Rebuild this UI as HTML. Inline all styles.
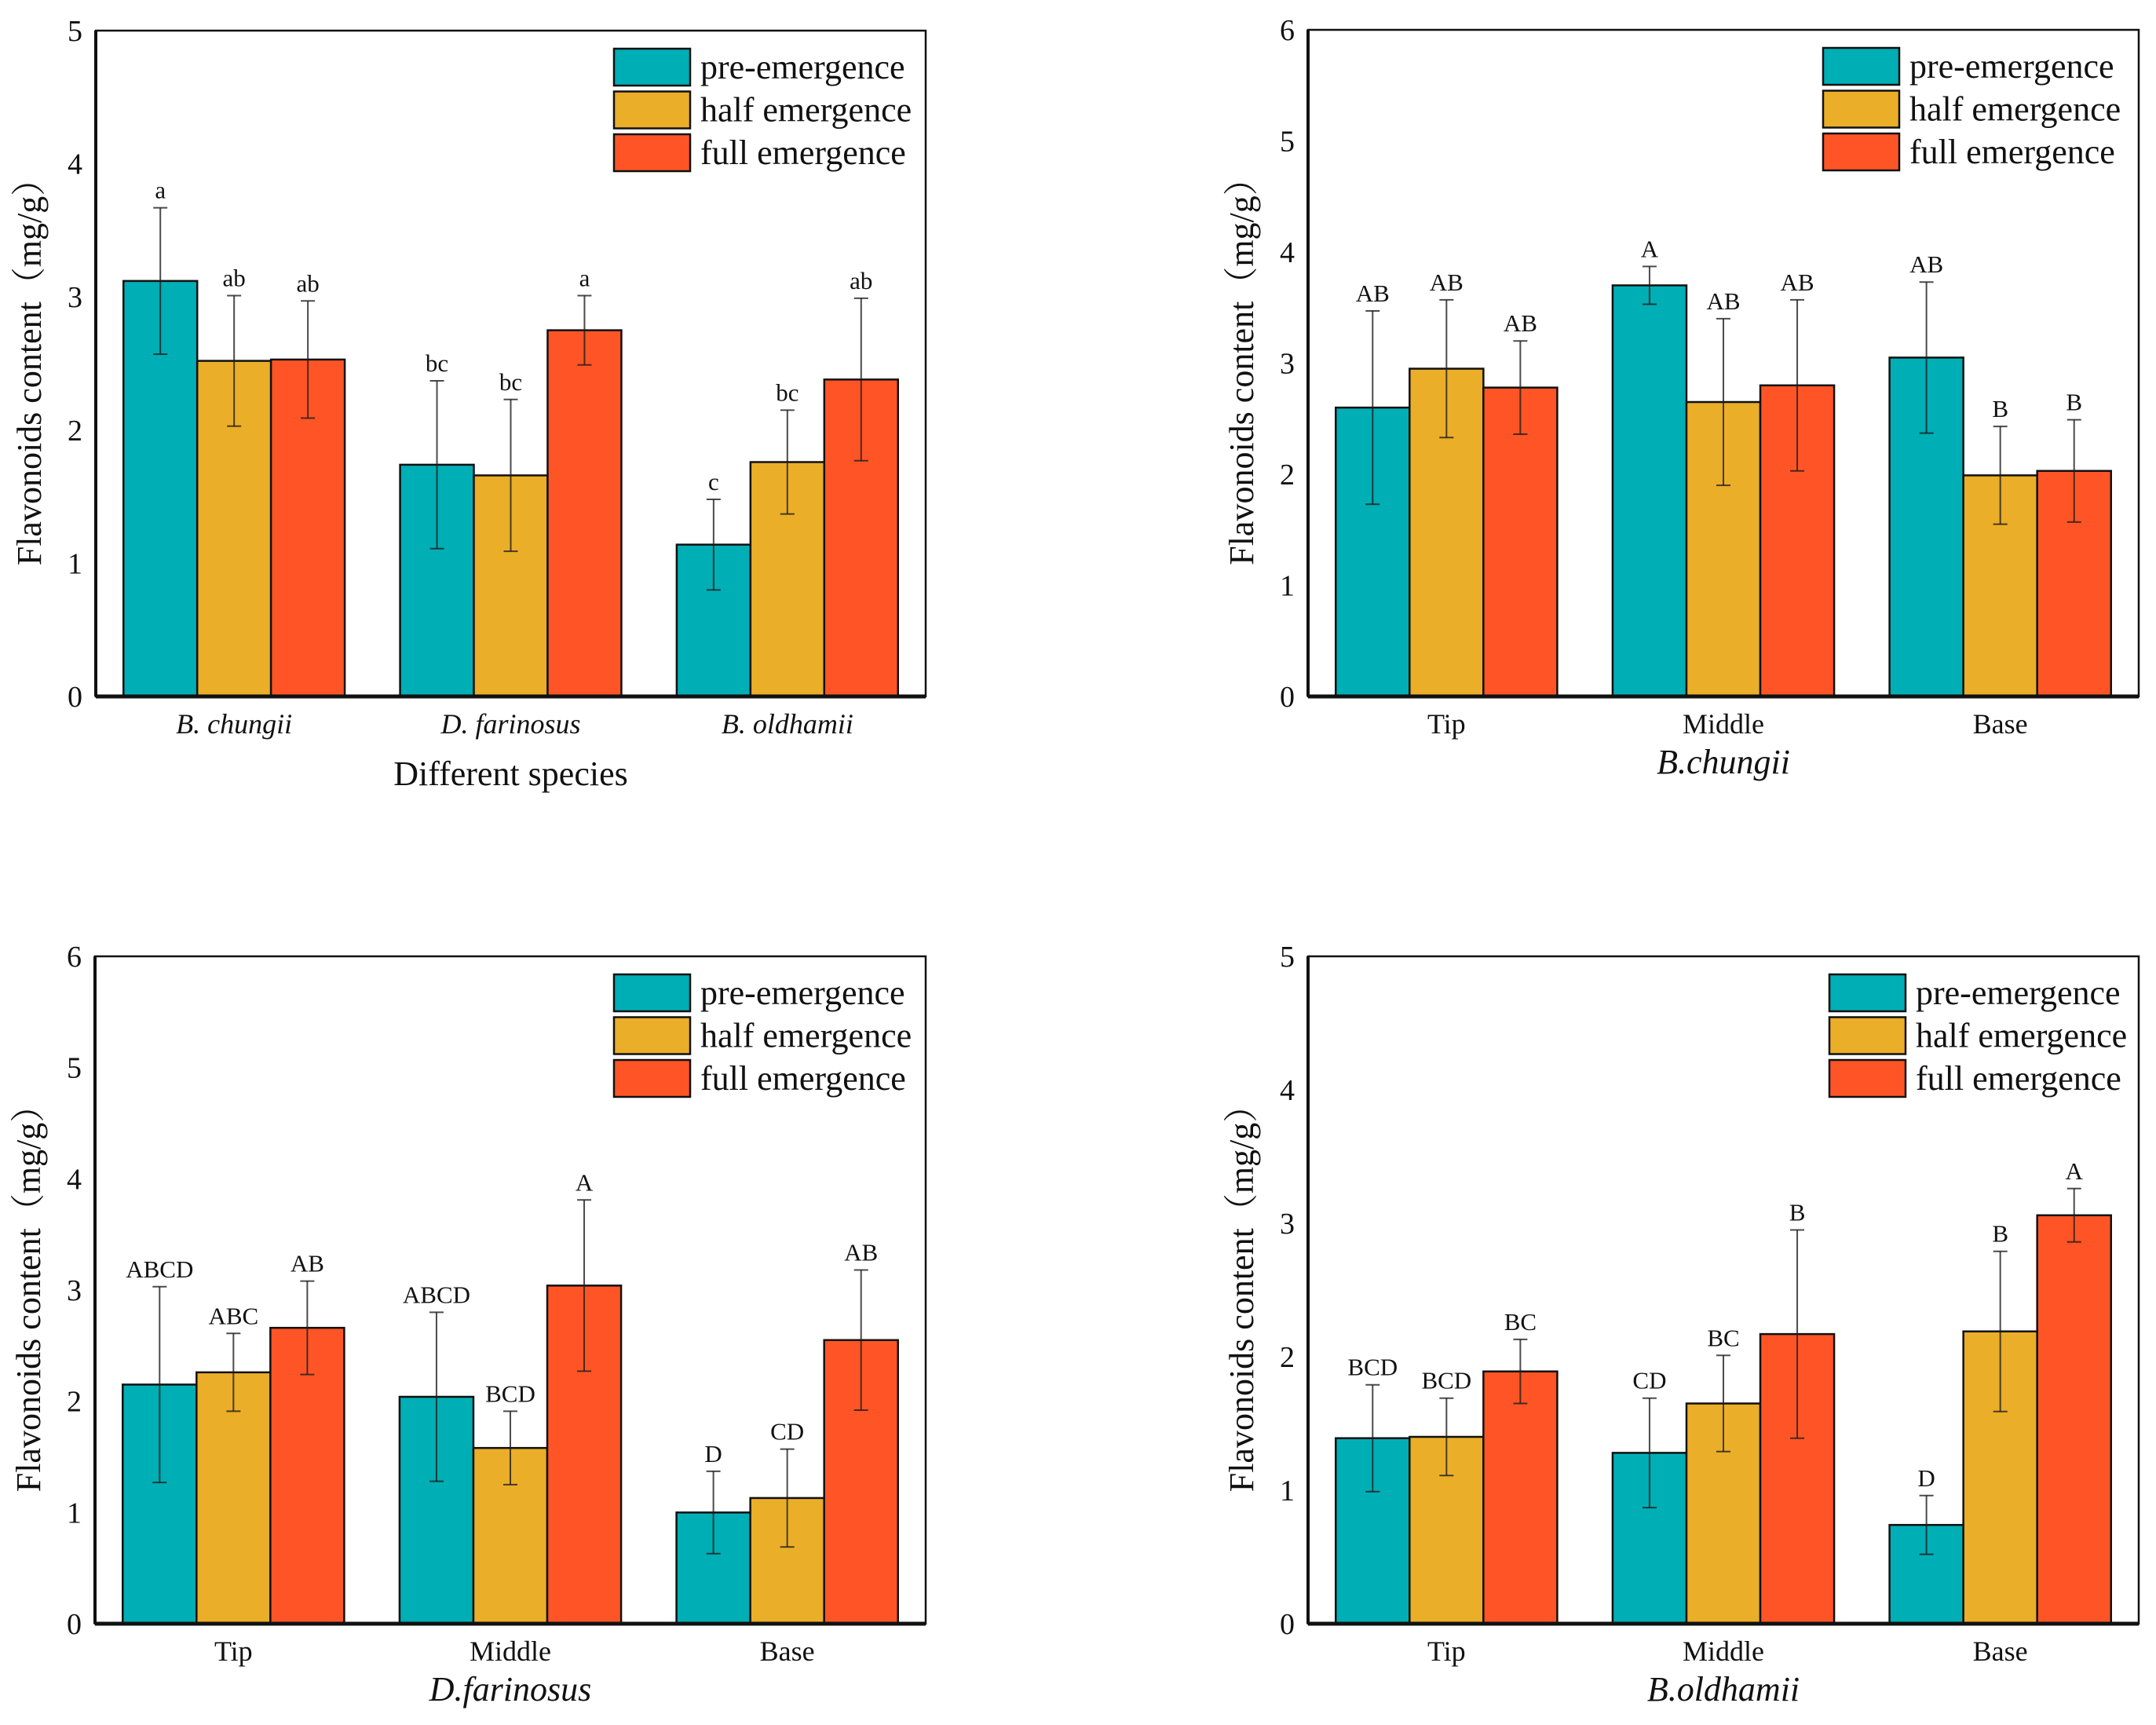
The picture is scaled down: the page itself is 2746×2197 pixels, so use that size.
<!DOCTYPE html>
<html><head><meta charset="utf-8">
<style>
html,body{margin:0;padding:0;background:#fff;}
svg{display:block;font-family:"Liberation Serif","Noto Serif CJK SC",serif;}
</style></head>
<body>
<svg id="chart" width="2746" height="2197" viewBox="0 0 2746 2197" xmlns="http://www.w3.org/2000/svg"></svg>
<script>
// ---- data ----
const seriesNames = ["pre-emergence","half emergence","full emergence"];
const seriesColors = ["#00AEB5","#EAAE28","#FF5526"];

const catsA = ["B. chungii","D. farinosus","B. oldhamii"];
const preA = [3.12,1.74,1.14];
const halfA = [2.52,1.66,1.76];
const fullA = [2.53,2.75,2.38];
const preErrA = [0.55,0.63,0.34];
const halfErrA = [0.49,0.57,0.39];
const fullErrA = [0.44,0.26,0.61];
const lettersA = [["a","bc","c"],["ab","bc","bc"],["ab","a","ab"]];
const ticksA = [0,1,2,3,4,5];

const catsParts = ["Tip","Middle","Base"];

const preB = [2.60,3.70,3.05];
const halfB = [2.95,2.65,1.99];
const fullB = [2.78,2.80,2.03];
const preErrB = [0.87,0.17,0.68];
const halfErrB = [0.62,0.75,0.44];
const fullErrB = [0.42,0.77,0.46];
const lettersB = [["AB","A","AB"],["AB","AB","B"],["AB","AB","B"]];
const ticksB = [0,1,2,3,4,5,6];

const preC = [2.15,2.04,1.00];
const halfC = [2.26,1.58,1.13];
const fullC = [2.66,3.04,2.55];
const preErrC = [0.88,0.76,0.37];
const halfErrC = [0.35,0.33,0.44];
const fullErrC = [0.42,0.77,0.63];
const lettersC = [["ABCD","ABCD","D"],["ABC","BCD","CD"],["AB","A","AB"]];
const ticksC = [0,1,2,3,4,5,6];

const preD = [1.39,1.28,0.74];
const halfD = [1.40,1.65,2.19];
const fullD = [1.89,2.17,3.06];
const preErrD = [0.40,0.41,0.22];
const halfErrD = [0.29,0.36,0.60];
const fullErrD = [0.24,0.78,0.20];
const lettersD = [["BCD","CD","D"],["BCD","BC","B"],["BC","B","A"]];
const ticksD = [0,1,2,3,4,5];

// ---- drawing ----
const svg = document.getElementById('chart');
const NS = "http://www.w3.org/2000/svg";
function mk(tag, attrs, parent, text){
  const e = document.createElementNS(NS, tag);
  for (const k in attrs) e.setAttribute(k, attrs[k]);
  if (text !== undefined) e.textContent = text;
  parent.appendChild(e);
  return e;
}

function panel(id, box, cats, vals, errs, letters, ticks, catItalic, title, titleItalic, legendX){
  const g = mk('g', {}, svg);
  
  
  const L = box.l, R = box.r, T = box.t, B = box.b;
  const ymax = ticks[ticks.length-1];
  const yS = v => B - v/ymax*(B-T);
  const cw = (R-L)/cats.length;
  const bw = cw*0.8/3;
  const xS = (ci, si) => L + ci*cw + cw*0.1 + si*bw;

  for (let s=0; s<3; s++){
    for (let c=0; c<cats.length; c++){
      const v = vals[s][c];
      const r = mk('rect', {x:xS(c,s), y:yS(v), width:bw, height:B-yS(v), fill:seriesColors[s], stroke:'#111', 'stroke-width':2.5}, g);
      
      
    }
  }
  for (let s=0; s<3; s++){
    for (let c=0; c<cats.length; c++){
      const v = vals[s][c], e = errs[s][c];
      const cx = xS(c,s)+bw/2;
      const eg = mk('g', {stroke:'rgba(30,30,30,0.8)', 'stroke-width':2}, g);
      
      
      mk('line', {x1:cx, x2:cx, y1:yS(v+e), y2:yS(v-e)}, eg);
      mk('line', {x1:cx-9, x2:cx+9, y1:yS(v+e), y2:yS(v+e)}, eg);
      mk('line', {x1:cx-9, x2:cx+9, y1:yS(v-e), y2:yS(v-e)}, eg);
      const t = mk('text', {x:cx, y:yS(v+e)-12, 'text-anchor':'middle', 'font-size':31, fill:'#111'}, g, letters[s][c]);
      
      
    }
  }
  const fr = mk('rect', {x:L, y:T, width:R-L, height:B-T, fill:'none', stroke:'#111', 'stroke-width':2.5}, g);
  
  
  mk('line', {x1:L, x2:R, y1:B, y2:B, stroke:'#111', 'stroke-width':5}, g);
  mk('line', {x1:L, x2:L, y1:T, y2:B, stroke:'#111', 'stroke-width':4}, g);
  ticks.forEach(tv => {
    const t = mk('text', {x:L-17, y:yS(tv)+13, 'text-anchor':'end', 'font-size':38, fill:'#111'}, g, String(tv));
    
    
  });
  cats.forEach((cn, c) => {
    const t = mk('text', {x:L+cw*(c+0.5), y:B+47, 'text-anchor':'middle', 'font-size':36, fill:'#111', 'font-style':catItalic?'italic':'normal'}, g, cn);
    
    
  });
  const xt = mk('text', {x:(L+R)/2, y:B+(titleItalic?98:113), 'text-anchor':'middle', 'font-size':44, fill:'#111', 'font-style':titleItalic?'italic':'normal'}, g, title);
  
  
  const cy = (T+B)/2;
  const yt = mk('text', {x:0, y:0, transform:`translate(${L-70},${cy}) rotate(-90)`, 'text-anchor':'middle', 'font-size':44, fill:'#111'}, g, 'Flavonoids content（mg/g）');
  
  
  const lg = mk('g', {}, g);
  
  
  for (let s=0; s<3; s++){
    const yy = T + 23 + s*54.5;
    const sw = mk('rect', {x:legendX, y:yy, width:97, height:47, fill:seriesColors[s], stroke:'#111', 'stroke-width':2.5}, lg);
    
    
    const lt = mk('text', {x:legendX+110, y:yy+38, 'font-size':44, fill:'#111'}, lg, seriesNames[s]);
    
    
  }
}

panel('panel-species', {l:122,r:1179,t:39,b:887}, catsA, [preA,halfA,fullA], [preErrA,halfErrA,fullErrA], lettersA, ticksA, true, 'Different species', false, 782);
panel('panel-b-chungii', {l:1666,r:2724,t:38,b:887}, catsParts, [preB,halfB,fullB], [preErrB,halfErrB,fullErrB], lettersB, ticksB, false, 'B.chungii', true, 2322);
panel('panel-d-farinosus', {l:121,r:1179,t:1218,b:2068}, catsParts, [preC,halfC,fullC], [preErrC,halfErrC,fullErrC], lettersC, ticksC, false, 'D.farinosus', true, 782);
panel('panel-b-oldhamii', {l:1666,r:2724,t:1218,b:2068}, catsParts, [preD,halfD,fullD], [preErrD,halfErrD,fullErrD], lettersD, ticksD, false, 'B.oldhamii', true, 2330);
</script>
</body></html>
